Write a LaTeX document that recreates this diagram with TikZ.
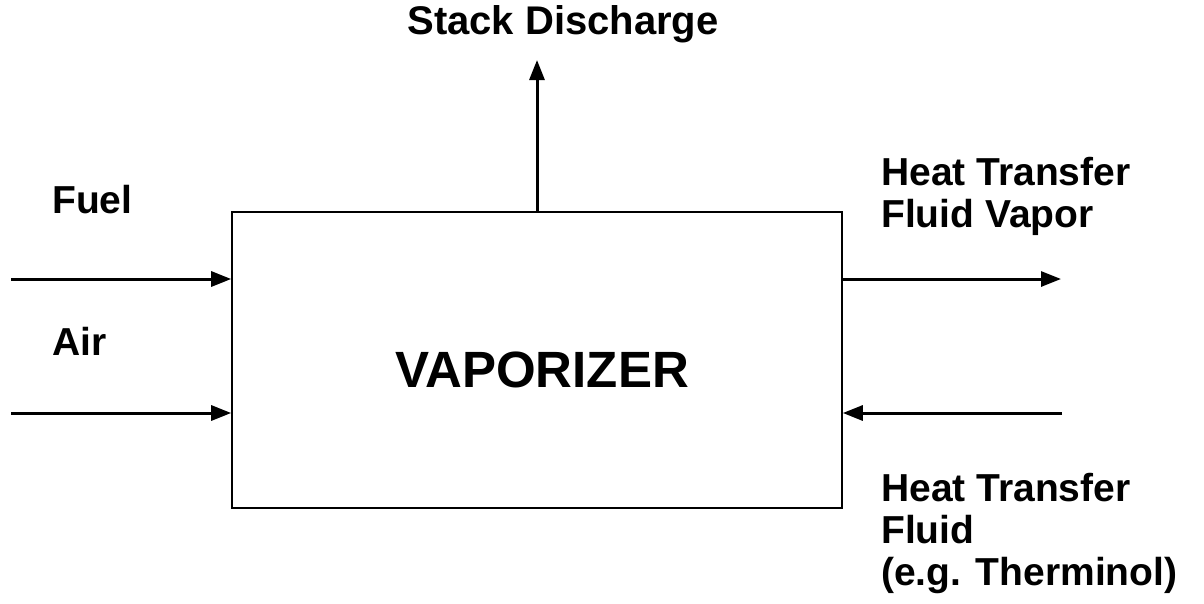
\documentclass[tikz,border=0pt]{standalone}
\usepackage{fontspec}
\setmainfont{Liberation Sans}
\usetikzlibrary{arrows.meta,positioning,calc}

\begin{document}
\begin{tikzpicture}[
  x=1pt, y=-1pt,
  box/.style={draw, line width=1.6pt, minimum width=610pt, minimum height=296pt, inner sep=0pt},
  lbl/.style={anchor=base west, align=left, inner sep=0pt, font=\fontsize{39}{42}\selectfont\bfseries},
  arr/.style={-{Triangle[length=20pt,width=15pt]}, line width=3pt}
]

\useasboundingbox (0,0) rectangle (1204,603);

\node[box] (vap) at (537,360) {};
\node[anchor=base, inner sep=0pt, font=\fontsize{51}{56}\selectfont\bfseries] (vaptext) at (542,387) {VAPORIZER};

% inputs on the left
\coordinate (fuelin) at (11,279);
\coordinate (airin) at (11,413);
\draw[arr] (fuelin) -- (fuelin -| vap.west);
\draw[arr] (airin) -- (airin -| vap.west);
\node[lbl] (fuel) at (52,213) {Fuel};
\node[lbl] (air) at (52,355) {Air};

% stack
\coordinate (stackout) at (537,60);
\draw[arr] (vap.north) -- (stackout);
\node[anchor=base, inner sep=0pt, font=\fontsize{40}{44}\selectfont\bfseries] (stack) at (563,34) {Stack Discharge};

% heat transfer fluid
\coordinate (vapout) at (1061,279);
\coordinate (htfin) at (1062,413);
\draw[arr] (vapout -| vap.east) -- (vapout);
\draw[arr] (htfin) -- (htfin -| vap.east);
\node[lbl] (vapor) at (881,227) {Heat Transfer\\Fluid Vapor};
\node[lbl] (htf) at (881,585) {Heat Transfer\\Fluid\\(e.g. Therminol)};

\end{tikzpicture}
\end{document}
